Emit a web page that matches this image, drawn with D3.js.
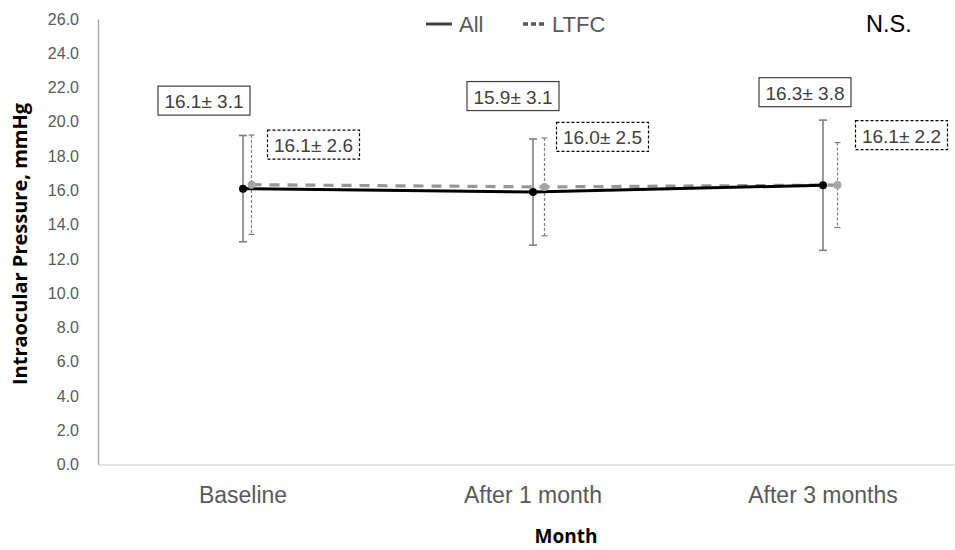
<!DOCTYPE html>
<html>
<head>
<meta charset="utf-8">
<script src="https://cdn.jsdelivr.net/npm/d3@7"></script>
<style>
  body { margin: 0; background: #fff; }
  svg { display: block; font-family: "Liberation Sans", Arial, sans-serif; }
</style>
</head>
<body>
<div id="chart"></div>
<script>
// data
let months = ["Baseline", "After 1 month", "After 3 months"];
let allMean = [16.1, 15.9, 16.3];
let allSd = [3.1, 3.1, 3.8];
let ltfcMean = [16.33, 16.2, 16.31];
let ltfcErr = [2.9, 2.85, 2.48];
let allLabels = ["16.1\u00b1 3.1", "15.9\u00b1 3.1", "16.3\u00b1 3.8"];
let ltfcLabels = ["16.1\u00b1 2.6", "16.0\u00b1 2.5", "16.1\u00b1 2.2"];
let yTicks = d3.range(0, 26.1, 2);

let svgWidth = 955;
let svgHeight = 550;

// label box offsets from their point (layout only)
let allLabelOff = [[-39, -88], [-20, -96], [-18, -93]];
let ltfcLabelOff = [[62, -40], [58, -50], [64, -50]];

let svg = d3.select("#chart").append("svg")
  .attr("width", svgWidth)
  .attr("height", svgHeight);

let y = d3.scaleLinear().domain([0, 26]).range([464.5, 19]);
let x = d3.scaleBand().domain(months).range([98, 968]);
let x2 = d3.scaleBand().domain(months).range([105, 984]);

let xAll = (i) => x(months[i]) + x.bandwidth() / 2;
let xLtfc = (i) => x2(months[i]) + x2.bandwidth() / 2;

// y axis
let leftAxis = d3.axisLeft(y).tickValues(yTicks).tickFormat(d3.format(".1f")).tickSize(0).tickPadding(19);
let yAxis = svg.append("g").attr("transform", "translate(98,0)").call(leftAxis)
  .attr("font-size", 16)
  .attr("font-family", "Liberation Sans, Arial, sans-serif");
yAxis.select(".domain").attr("stroke", "#a6a6a6").attr("stroke-width", 1.3);
yAxis.selectAll("text").attr("fill", "#595959");

// x axis
let bottomAxis = d3.axisBottom(x).tickSize(0).tickPadding(22);
let xAxis = svg.append("g").attr("transform", "translate(0,464.5)").call(bottomAxis)
  .attr("font-size", 23)
  .attr("font-family", "Liberation Sans, Arial, sans-serif");
xAxis.select(".domain").attr("stroke", "#d9d9d9").attr("stroke-width", 1.3);
xAxis.selectAll("text").attr("fill", "#595959");

// axis titles
svg.append("text")
  .attr("transform", "translate(27,244) rotate(-90)")
  .attr("text-anchor", "middle")
  .attr("font-family", "Open Sans, sans-serif")
  .attr("font-weight", "bold")
  .attr("font-size", "20px")
  .text("Intraocular Pressure, mmHg");

svg.append("text")
  .attr("x", 566)
  .attr("y", 543)
  .attr("text-anchor", "middle")
  .attr("font-family", "Open Sans, sans-serif")
  .attr("font-weight", "bold")
  .attr("font-size", "19px")
  .text("Month");

// error bars LTFC (dashed)
let ltfcBars = svg.append("g").selectAll("g").data(months).enter().append("g");
ltfcBars.append("line")
  .attr("x1", (d, i) => xLtfc(i)).attr("x2", (d, i) => xLtfc(i))
  .attr("y1", (d, i) => y(ltfcMean[i] + ltfcErr[i]))
  .attr("y2", (d, i) => y(ltfcMean[i] - ltfcErr[i]))
  .attr("stroke", "#7f7f7f").attr("stroke-width", 1.2).attr("stroke-dasharray", "3,2");
[1, -1].forEach((s) => {
  ltfcBars.append("line")
    .attr("x1", (d, i) => xLtfc(i) - 3).attr("x2", (d, i) => xLtfc(i) + 3)
    .attr("y1", (d, i) => y(ltfcMean[i] + s * ltfcErr[i]))
    .attr("y2", (d, i) => y(ltfcMean[i] + s * ltfcErr[i]))
    .attr("stroke", "#7f7f7f").attr("stroke-width", 1.2);
});

// error bars All
let allBars = svg.append("g").selectAll("g").data(months).enter().append("g");
allBars.append("line")
  .attr("x1", (d, i) => xAll(i)).attr("x2", (d, i) => xAll(i))
  .attr("y1", (d, i) => y(allMean[i] + allSd[i]))
  .attr("y2", (d, i) => y(allMean[i] - allSd[i]))
  .attr("stroke", "#808080").attr("stroke-width", 1.6);
[1, -1].forEach((s) => {
  allBars.append("line")
    .attr("x1", (d, i) => xAll(i) - 4).attr("x2", (d, i) => xAll(i) + 4)
    .attr("y1", (d, i) => y(allMean[i] + s * allSd[i]))
    .attr("y2", (d, i) => y(allMean[i] + s * allSd[i]))
    .attr("stroke", "#808080").attr("stroke-width", 1.6);
});

// lines
let ltfcLine = d3.line().x((d, i) => xLtfc(i)).y((d) => y(d));
let allLine = d3.line().x((d, i) => xAll(i)).y((d) => y(d));

svg.append("path").datum(ltfcMean)
  .attr("d", ltfcLine)
  .attr("fill", "none").attr("stroke", "#969696").attr("stroke-width", 3.2)
  .attr("stroke-dasharray", "10,8");

svg.append("path").datum(allMean)
  .attr("d", allLine)
  .attr("fill", "none").attr("stroke", "#000").attr("stroke-width", 3);

// markers
svg.append("g").selectAll("circle").data(ltfcMean).enter().append("circle")
  .attr("cx", (d, i) => xLtfc(i)).attr("cy", (d) => y(d)).attr("r", 4)
  .attr("fill", "#a6a6a6");

svg.append("g").selectAll("circle").data(allMean).enter().append("circle")
  .attr("cx", (d, i) => xAll(i)).attr("cy", (d) => y(d)).attr("r", 4)
  .attr("fill", "#000");

// label boxes
function drawLabel(cx, top, label, dashed) {
  let g = svg.append("g");
  g.append("rect")
    .attr("x", cx - 46).attr("y", top)
    .attr("width", 92).attr("height", 29)
    .attr("fill", "#fff")
    .attr("stroke", dashed ? "#000" : "#404040")
    .attr("stroke-width", 1.2)
    .attr("stroke-dasharray", dashed ? "3,2" : null);
  g.append("text")
    .attr("x", cx)
    .attr("y", top + 22)
    .attr("text-anchor", "middle")
    .attr("font-size", "19px")
    .attr("fill", "#404040")
    .text(label);
}

months.forEach((m, i) => {
  drawLabel(xAll(i) + allLabelOff[i][0], y(allMean[i]) + allLabelOff[i][1] - 14.5, allLabels[i], false);
  drawLabel(xLtfc(i) + ltfcLabelOff[i][0], y(ltfcMean[i]) + ltfcLabelOff[i][1] - 14.5, ltfcLabels[i], true);
});

// legend
let legend = svg.append("g");
legend.append("line").attr("x1", 426).attr("x2", 452).attr("y1", 24).attr("y2", 24)
  .attr("stroke", "#404040").attr("stroke-width", 3);
legend.append("text").attr("x", 459).attr("y", 32).attr("font-size", "22px")
  .attr("fill", "#595959").text("All");
legend.append("line").attr("x1", 523).attr("x2", 545).attr("y1", 24).attr("y2", 24)
  .attr("stroke", "#595959").attr("stroke-width", 3.5).attr("stroke-dasharray", "5,3");
legend.append("text").attr("x", 552).attr("y", 32).attr("font-size", "22px")
  .attr("fill", "#595959").text("LTFC");

svg.append("text").attr("x", 866).attr("y", 32).attr("font-size", "23.5px")
  .attr("fill", "#000").text("N.S.");
</script>
</body>
</html>
